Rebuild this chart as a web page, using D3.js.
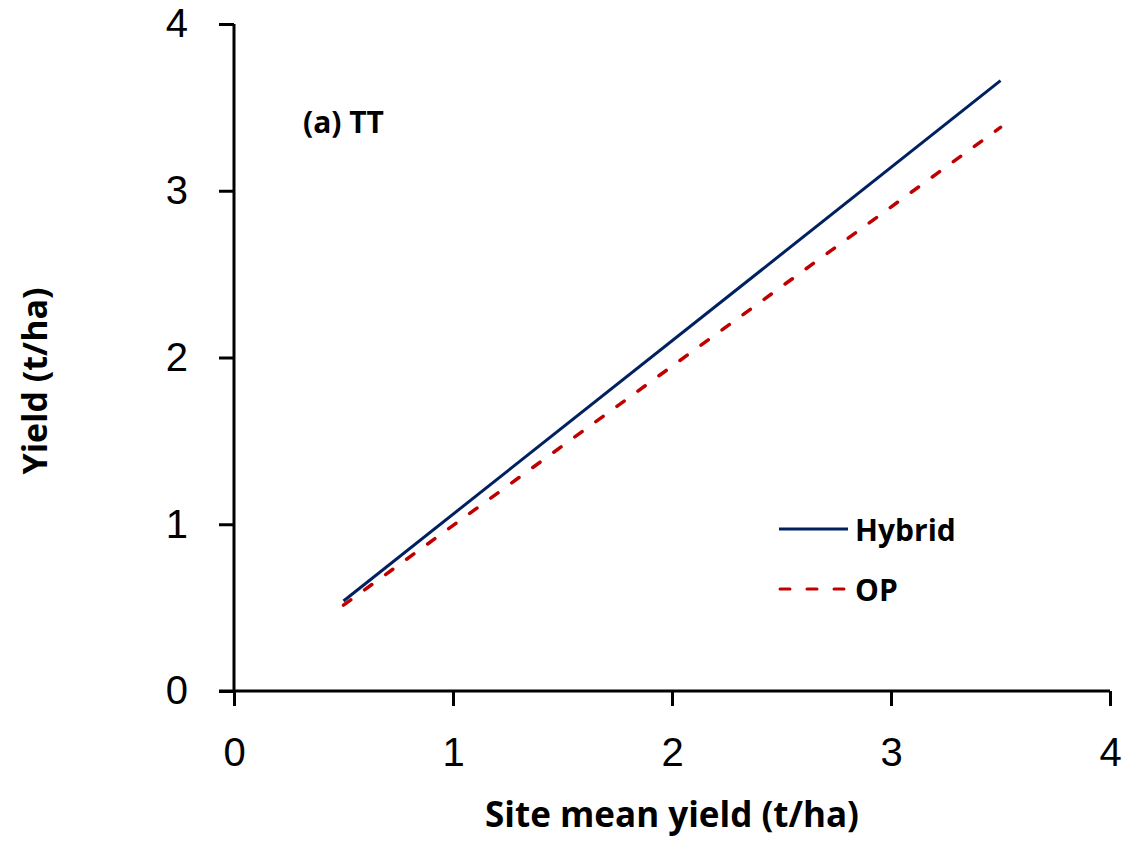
<!DOCTYPE html>
<html>
<head>
<meta charset="utf-8">
<script src="https://cdn.jsdelivr.net/npm/d3@7"></script>
<style>
  body { margin: 0; background: #fff; }
  svg text { font-family: "Open Sans", "Liberation Sans", sans-serif; fill: #000; }
  svg .tick text { font-family: "Liberation Sans", Arial, sans-serif; }
</style>
</head>
<body>
<svg id="chart" width="1125" height="841"></svg>
<script>
// Data
const xTicks = [0, 1, 2, 3, 4];
const yTicks = [0, 1, 2, 3, 4];
const hybridX = [0.5, 3.5];
const hybridY = [0.54, 3.66];
const opX = [0.5, 3.5];
const opY = [0.515, 3.38];
const seriesNames = ['Hybrid', 'OP'];

const svg = d3.select('#chart');

const x = d3.scaleLinear().domain([0, 4]).range([234, 1110]);
const y = d3.scaleLinear().domain([0, 4]).range([691, 24]);

// Axes
const xAxis = svg.append('g')
  .attr('transform', `translate(0,${y(0)})`)
  .call(d3.axisBottom(x).tickValues(xTicks).tickSize(15).tickSizeOuter(0).tickPadding(32).tickFormat(d3.format('d')));
const yAxis = svg.append('g')
  .attr('transform', `translate(${x(0)},0)`)
  .call(d3.axisLeft(y).tickValues(yTicks).tickSize(15).tickSizeOuter(0).tickPadding(31).tickFormat(d3.format('d')));

[xAxis, yAxis].forEach(a => {
  a.select('.domain').attr('stroke', '#000').attr('stroke-width', 3);
  a.selectAll('.tick line').attr('stroke', '#000').attr('stroke-width', 3);
  a.selectAll('.tick text').attr('font-size', 40).attr('fill', '#000');
});
yAxis.select('.domain').attr('d', `M0,${y(4)}V${y(0)}`);
xAxis.select('.domain').attr('d', `M${x(0) - 15},0H${x(4)}`);

// Series
const line = d3.line().x(d => x(d[0])).y(d => y(d[1]));
svg.append('path')
  .datum(hybridX.map((v, i) => [v, hybridY[i]]))
  .attr('d', line)
  .attr('fill', 'none')
  .attr('stroke', '#002060')
  .attr('stroke-width', 3);
svg.append('path')
  .datum(opX.map((v, i) => [v, opY[i]]))
  .attr('d', line)
  .attr('fill', 'none')
  .attr('stroke', '#c00000')
  .attr('stroke-width', 3.5)
  .attr('stroke-linecap', 'round')
  .attr('stroke-dasharray', '9,17');

// Panel label
svg.append('text')
  .attr('x', 303).attr('y', 133)
  .attr('font-size', 30).attr('font-weight', 'bold')
  .text('(a) TT');

// Legend
const legend = svg.append('g');
const legendStyles = [
  { color: '#002060', dash: null, y: 529 },
  { color: '#c00000', dash: '10,17', y: 589 }
];
seriesNames.forEach((name, i) => {
  const s = legendStyles[i];
  legend.append('line')
    .attr('x1', s.dash ? 780 : 779).attr('x2', 848)
    .attr('y1', s.y).attr('y2', s.y)
    .attr('stroke', s.color)
    .attr('stroke-width', 3)
    .attr('stroke-linecap', s.dash ? 'round' : 'butt')
    .attr('stroke-dasharray', s.dash);
  legend.append('text')
    .attr('x', 855).attr('y', s.y + 12)
    .attr('font-size', 30).attr('font-weight', 'bold')
    .text(name);
});

// Axis titles
svg.append('text')
  .attr('x', 672).attr('y', 827)
  .attr('text-anchor', 'middle')
  .attr('font-size', 35).attr('font-weight', 'bold')
  .text('Site mean yield (t/ha)');
svg.append('text')
  .attr('transform', 'translate(47,381) rotate(-90)')
  .attr('text-anchor', 'middle')
  .attr('font-size', 34).attr('font-weight', 'bold')
  .text('Yield (t/ha)');
</script>
</body>
</html>
